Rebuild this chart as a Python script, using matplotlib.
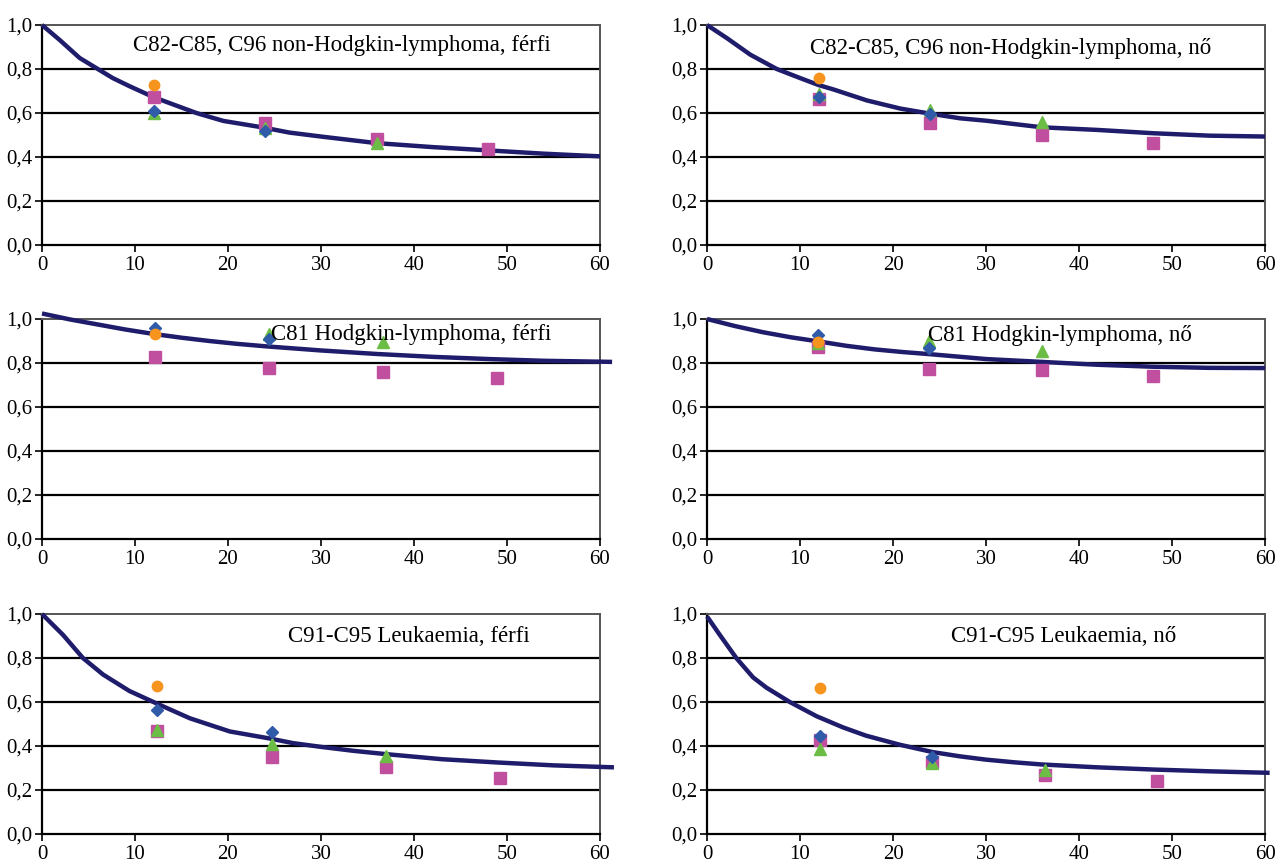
"""Survival curves for lymphoma / leukaemia panels, saved as out.png"""

import numpy as np
import matplotlib.pyplot as plt
from matplotlib.ticker import FuncFormatter

nan = np.nan

# --- panel titles ---
titles = [
    "C82-C85, C96 non-Hodgkin-lymphoma, férfi",
    "C82-C85, C96 non-Hodgkin-lymphoma, nő",
    "C81 Hodgkin-lymphoma, férfi",
    "C81 Hodgkin-lymphoma, nő",
    "C91-C95 Leukaemia, férfi",
    "C91-C95 Leukaemia, nő",
]

# --- fitted curves (months, survival) ---
nhl_m_cx = [0, 1.9, 4.05, 6, 7.6, 9.4, 12, 14.1, 16.6, 19.5, 23.8, 26.6, 30, 36, 42, 48, 54, 60]
nhl_m_cy = [1.0, 0.932, 0.85, 0.80, 0.759, 0.722, 0.672, 0.639, 0.60, 0.564, 0.534, 0.511,
            0.493, 0.463, 0.445, 0.43, 0.415, 0.403]
nhl_f_cx = [0, 2.15, 4.66, 7.5, 10, 12, 13.6, 17.2, 20.8, 24, 27.2, 30, 36, 42, 48, 54, 60]
nhl_f_cy = [1.0, 0.94, 0.865, 0.80, 0.759, 0.727, 0.707, 0.657, 0.62, 0.597, 0.576, 0.565,
            0.535, 0.523, 0.508, 0.497, 0.493]
hl_m_cx = [0, 3, 6, 9, 12, 15, 18, 21, 24, 30, 36, 42, 48, 54, 60, 61.3]
hl_m_cy = [1.025, 0.998, 0.975, 0.952, 0.932, 0.915, 0.90, 0.887, 0.876, 0.857, 0.841, 0.828,
           0.818, 0.81, 0.806, 0.805]
hl_f_cx = [0, 3, 6, 9, 12, 15, 18, 21, 24, 30, 36, 42, 48, 54, 60]
hl_f_cy = [1.0, 0.968, 0.94, 0.917, 0.898, 0.878, 0.862, 0.85, 0.840, 0.818, 0.805, 0.792,
           0.783, 0.778, 0.777]
leu_m_cx = [0, 2.26, 4.4, 6.56, 9.4, 12.5, 15.9, 20.2, 24.5, 27, 30, 33.5, 37, 43, 49, 55, 61.5]
leu_m_cy = [1.0, 0.905, 0.80, 0.725, 0.65, 0.59, 0.526, 0.466, 0.434, 0.413, 0.396, 0.378,
            0.363, 0.34, 0.325, 0.312, 0.303]
leu_f_cx = [0, 1.36, 3.15, 4.95, 6.4, 8.9, 11.8, 14.6, 17.1, 20.7, 24.3, 27.2, 30, 33, 36,
            42, 48, 54, 60.5]
leu_f_cy = [0.989, 0.906, 0.80, 0.712, 0.665, 0.60, 0.535, 0.485, 0.447, 0.406, 0.372, 0.353,
            0.338, 0.326, 0.316, 0.303, 0.293, 0.285, 0.278]

# --- observed points (x positions, then one list per series) ---
nhl_m_px = [12, 24, 36, 48]
nhl_m_pink = [0.674, 0.553, 0.481, 0.438]
nhl_m_green = [0.60, 0.534, 0.463, nan]
nhl_m_blue = [0.609, 0.516, nan, nan]
nhl_m_orange = [0.726, nan, nan, nan]

nhl_f_px = [12, 24, 36, 48]
nhl_f_pink = [0.663, 0.556, 0.499, 0.463]
nhl_f_green = [0.686, 0.613, 0.559, nan]
nhl_f_blue = [0.675, 0.595, nan, nan]
nhl_f_orange = [0.761, nan, nan, nan]

hl_m_px = [12.1, 24.4, 36.7, 48.9]
hl_m_pink = [0.827, 0.777, 0.758, 0.733]
hl_m_green = [nan, 0.932, 0.894, nan]
hl_m_blue = [0.959, 0.909, nan, nan]
hl_m_orange = [0.932, nan, nan, nan]

hl_f_px = [11.9, 23.9, 36, 48]
hl_f_pink = [0.874, 0.775, 0.768, 0.743]
hl_f_green = [0.89, 0.898, 0.856, nan]
hl_f_blue = [0.929, 0.866, nan, nan]
hl_f_orange = [0.895, nan, nan, nan]

leu_m_px = [12.4, 24.7, 37, 49.2]
leu_m_pink = [0.468, 0.352, 0.304, 0.255]
leu_m_green = [0.471, 0.408, 0.353, nan]
leu_m_blue = [0.562, 0.464, nan, nan]
leu_m_orange = [0.672, nan, nan, nan]

leu_f_px = [12.1, 24.2, 36.3, 48.4]
leu_f_pink = [0.426, 0.328, 0.270, 0.242]
leu_f_green = [0.387, 0.323, 0.289, nan]
leu_f_blue = [0.444, 0.350, nan, nan]
leu_f_orange = [0.662, nan, nan, nan]

panels = [
    (nhl_m_cx, nhl_m_cy, nhl_m_px, nhl_m_pink, nhl_m_green, nhl_m_blue, nhl_m_orange),
    (nhl_f_cx, nhl_f_cy, nhl_f_px, nhl_f_pink, nhl_f_green, nhl_f_blue, nhl_f_orange),
    (hl_m_cx, hl_m_cy, hl_m_px, hl_m_pink, hl_m_green, hl_m_blue, hl_m_orange),
    (hl_f_cx, hl_f_cy, hl_f_px, hl_f_pink, hl_f_green, hl_f_blue, hl_f_orange),
    (leu_m_cx, leu_m_cy, leu_m_px, leu_m_pink, leu_m_green, leu_m_blue, leu_m_orange),
    (leu_f_cx, leu_f_cy, leu_f_px, leu_f_pink, leu_f_green, leu_f_blue, leu_f_orange),
]

# title anchor (data coords, left edge / vertical centre)
title_pos = [(9.8, 0.905), (11.1, 0.895), (24.6, 0.93), (23.8, 0.925), (26.5, 0.90), (26.2, 0.90)]

plt.rcParams["font.family"] = ["Liberation Serif", "DejaVu Serif"]

fig = plt.figure(figsize=(12.8, 8.64), dpi=100)
W, H = 1280, 864
lefts = [42, 707]
bottoms = [245, 539, 834]

comma = FuncFormatter(lambda v, _: f"{v:.1f}".replace(".", ","))

for i, (cx, cy, px, pink, green, blue, orange) in enumerate(panels):
    row, col = divmod(i, 2)
    ax = fig.add_axes([lefts[col] / W, 1 - bottoms[row] / H, 558 / W, 220 / H])

    for y in [0.2, 0.4, 0.6, 0.8]:
        ax.axhline(y, color="black", lw=1.6, zorder=1)

    ax.plot(cx, cy, color="#1f1c6b", lw=3.2, zorder=3, clip_on=False,
            solid_capstyle="butt", solid_joinstyle="round")
    ax.plot(px, pink, "s", color="#c0509f", ms=8, zorder=4, clip_on=False)
    ax.plot(px, green, "^", color="#6cbd45", ms=8.5, zorder=5, clip_on=False)
    ax.plot(px, blue, "D", color="#2f5ba8", ms=6.5, zorder=6, clip_on=False)
    ax.plot(px, orange, "o", color="#f7941e", ms=7.5, zorder=7, clip_on=False)

    tx, ty = title_pos[i]
    ax.text(tx, ty, titles[i], fontsize=16.5, va="center", ha="left", zorder=8)

    ax.set_xlim(0, 60)
    ax.set_ylim(0, 1.0)
    ax.set_xticks(range(0, 61, 10))
    ax.set_yticks([0, 0.2, 0.4, 0.6, 0.8, 1.0])
    ax.yaxis.set_major_formatter(comma)
    ax.tick_params(direction="out", length=5, width=1.2, labelsize=15)
    ax.tick_params(axis="x", pad=3)
    ax.tick_params(axis="y", pad=2)

    for s in ["left", "bottom"]:
        ax.spines[s].set_color("black")
        ax.spines[s].set_linewidth(1.6)
    for s in ["top", "right"]:
        ax.spines[s].set_color("#555555")
        ax.spines[s].set_linewidth(1.4)

plt.savefig("out.png", dpi=100)
plt.close()
